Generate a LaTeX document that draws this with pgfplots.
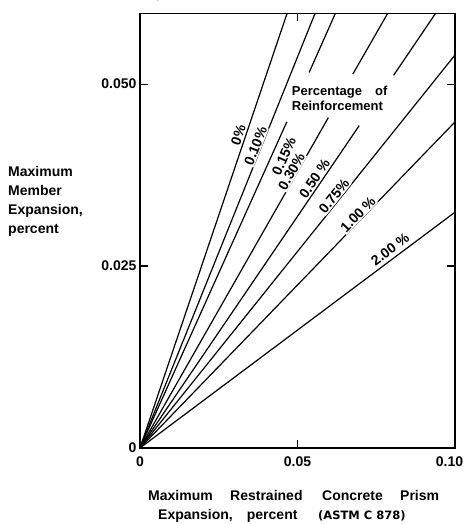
\documentclass[border=0pt]{standalone}
\usepackage{pgfplots}
\pgfplotsset{compat=1.18}
\usepackage{fontspec}
\setmainfont{Liberation Sans}
\newfontfamily\dejavu{DejaVu Sans}
\begin{document}
\begin{tikzpicture}
\useasboundingbox (-140pt,-76pt) rectangle (326pt,448pt);
\begin{axis}[
  at={(0,0)}, anchor=south west,
  scale only axis, width=315pt, height=434.5pt,
  xmin=0, xmax=0.1, ymin=0, ymax=0.0597,
  axis line style={line width=1.2pt},
  xtick={0,0.05,0.1}, xticklabels={0,0.05,\hspace*{-11pt}0.10},
  ytick={0,0.025,0.05}, yticklabels={0,0.025,0.050},
  tick align=inside, major tick length=8pt,
  tick style={line width=1.1pt, black},
  ticklabel style={font=\fontsize{14}{16}\selectfont\bfseries},
  xticklabel style={yshift=-5pt},
  clip=false,
  every axis plot post/.append style={black, solid, line width=1.2pt, mark=none},
]
% 0 %
\addplot coordinates {(0,0) (0.04668,0.0597)};
% 0.10 %
\addplot coordinates {(0,0) (0.05556,0.0597)};
% 0.15 %
\addplot coordinates {(0,0) (0.0466,0.0448)};
\addplot coordinates {(0.0537,0.0516) (0.0620,0.0597)};
% 0.30 %
\addplot coordinates {(0,0) (0.0598,0.0454)};
\addplot coordinates {(0.0676,0.0514) (0.0786,0.0597)};
% 0.50 %
\addplot coordinates {(0,0) (0.0696,0.0443)};
\addplot coordinates {(0.0805,0.0512) (0.0938,0.0597)};
% 0.75 %
\addplot coordinates {(0,0) (0.1,0.0540)};
% 1.00 %
\addplot coordinates {(0,0) (0.1,0.0448)};
% 2.00 %
\addplot coordinates {(0,0) (0.1,0.0324)};

\begin{scope}[every node/.style={fill=white, inner sep=1pt, font=\fontsize{14}{16}\selectfont\bfseries}]
\node[rotate=71.3] at (axis cs:0.0312,0.0430) {0\%};
\node[rotate=68.1] at (axis cs:0.0367,0.0415) {0.10\%};
\node[rotate=60.4] at (axis cs:0.0481,0.0380) {0.30\%};
\node[rotate=65.8] at (axis cs:0.0457,0.0401) {0.15\%};
\node[rotate=55.8] at (axis cs:0.0554,0.0370) {0.50 \%};
\node[rotate=51.3] at (axis cs:0.0616,0.0346) {0.75\%};
\node[rotate=46.0] at (axis cs:0.0692,0.0321) {1.00 \%};
\node[rotate=36.8] at (axis cs:0.0794,0.0273) {2.00 \%};
\end{scope}
\end{axis}

\begin{scope}[every node/.style={inner sep=0pt, anchor=base west, font=\fontsize{13}{15}\selectfont\bfseries}]
\node at (151.7pt,352pt) {Percentage};
\node at (235pt,352pt) {of};
\node at (151.7pt,337pt) {Reinforcement};
\end{scope}

\begin{scope}[every node/.style={inner sep=0pt, anchor=base west, font=\fontsize{14}{16}\selectfont\bfseries}]
\node at (8pt,-52pt) {Maximum};
\node at (90pt,-52pt) {Restrained};
\node at (182pt,-52pt) {Concrete};
\node at (260pt,-52pt) {Prism};
\node at (18pt,-71pt) {Expansion,};
\node at (106.7pt,-71pt) {percent};
\node[font=\dejavu\bfseries\fontsize{11.5}{13}\selectfont] at (178pt,-71pt) {(ASTM C 878)};
\end{scope}

\node[anchor=west, inner sep=0pt, align=left, font=\fontsize{14}{19}\selectfont\bfseries] at (-132pt,247pt) {Maximum\\Member\\Expansion,\\percent};
\end{tikzpicture}
\end{document}
